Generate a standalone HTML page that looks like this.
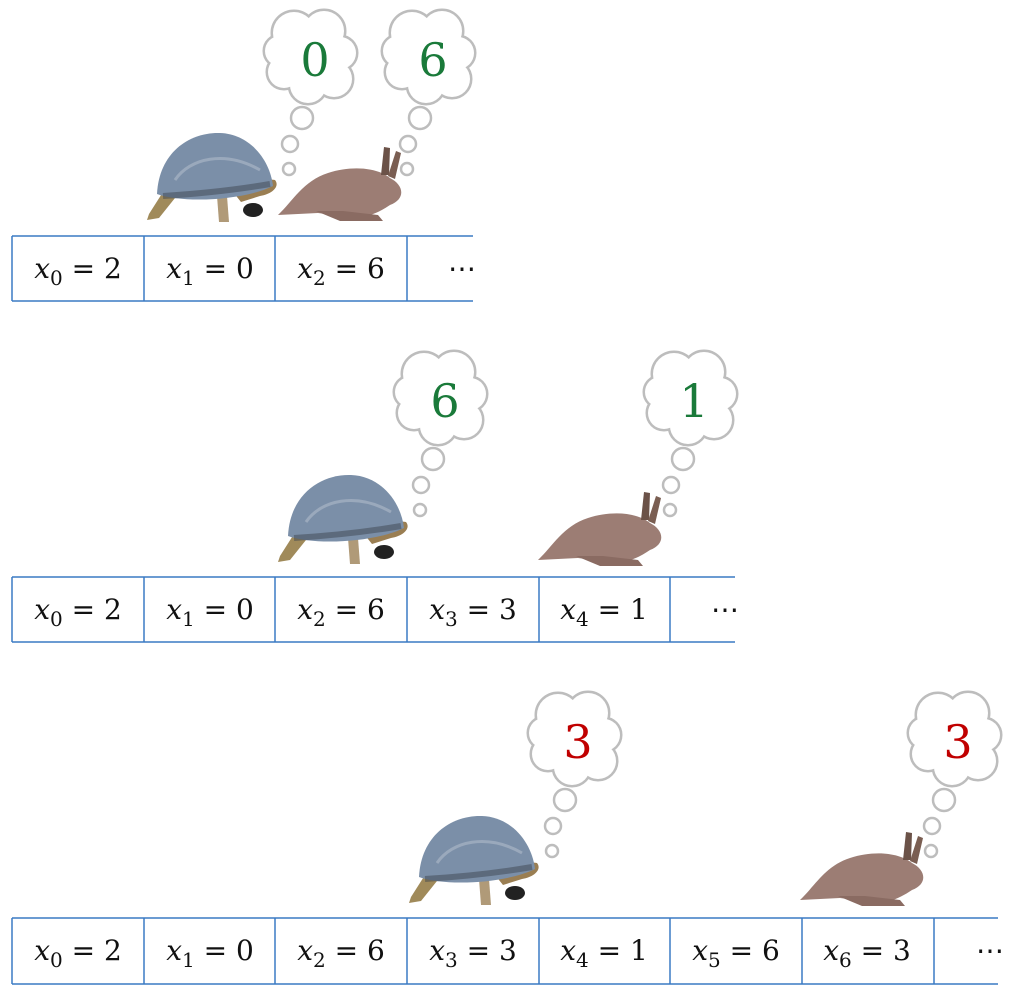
<!DOCTYPE html>
<html><head><meta charset="utf-8"><style>
html,body{margin:0;padding:0;background:#fff;}
svg{display:block}
.c{font-family:"DejaVu Serif","Liberation Serif",serif;font-size:28px;fill:#111;}
.n{font-family:"DejaVu Serif","Liberation Serif",serif;font-size:46px;text-anchor:middle;}
</style></head><body>
<svg width="1024" height="998" viewBox="0 0 1024 998" xmlns="http://www.w3.org/2000/svg">
<defs>
<g id="cloud">
 <g fill="#fff" stroke="#bdbdbd" stroke-width="5">
  <circle cx="-16" cy="-24" r="21"/><circle cx="14" cy="-26" r="20"/><circle cx="30" cy="-4" r="16"/>
  <circle cx="24" cy="22" r="18"/><circle cx="-2" cy="28" r="18"/><circle cx="-26" cy="15" r="16"/><circle cx="-30" cy="-6" r="15"/>
 </g>
 <g fill="#fff">
  <circle cx="-16" cy="-24" r="21"/><circle cx="14" cy="-26" r="20"/><circle cx="30" cy="-4" r="16"/>
  <circle cx="24" cy="22" r="18"/><circle cx="-2" cy="28" r="18"/><circle cx="-26" cy="15" r="16"/><circle cx="-30" cy="-6" r="15"/>
  <circle cx="0" cy="0" r="30"/>
 </g>
</g>
<g id="bub" fill="#fff" stroke="#bdbdbd" stroke-width="2.5">
 <circle cx="0" cy="0" r="11"/><circle cx="-12" cy="26" r="8"/><circle cx="-13" cy="51" r="6"/>
</g>
<g id="tort">
 <path d="M18,62 L4,84 L2,90 L14,88 L30,68 Z" fill="#a08a5a"/>
 <path d="M72,66 L82,66 L84,92 L74,92 Z" fill="#b09a78"/>
 <ellipse cx="108" cy="80" rx="10" ry="7" fill="#222"/>
 <path d="M88,62 C105,56 120,48 130,50 C135,56 128,64 115,66 L96,72 Z" fill="#9a7e52"/>
 <path d="M12,64 C14,22 45,2 75,3 C105,4 125,30 128,56 C100,70 40,74 12,64 Z" fill="#7b8fa8"/>
 <path d="M30,50 C45,28 80,20 115,40" stroke="#a8b4c4" stroke-width="3" fill="none" opacity=".7"/>
 <path d="M18,66 C50,64 90,60 125,54" stroke="#3d4650" stroke-width="6" fill="none" opacity=".5"/>
</g>
<g id="hare">
 <path d="M0,72 C15,58 25,38 50,30 C75,22 100,25 112,35 C126,42 128,56 112,62 C100,70 88,76 70,74 L40,70 Z" fill="#9c7d74"/>
 <path d="M103,32 L106,4 L112,5 L111,32 Z" fill="#6b5248"/>
 <path d="M110,33 L118,8 L123,10 L117,36 Z" fill="#7a5e52"/>
 <path d="M38,68 L62,78 L105,78 L100,72 L65,68 Z" fill="#8a6b62"/>
</g>
</defs>

<g fill="none" stroke="#3a7ac4" stroke-width="1.5">
 <line x1="12" y1="236" x2="473" y2="236"/><line x1="12" y1="301" x2="473" y2="301"/>
 <line x1="12" y1="236" x2="12" y2="301"/><line x1="144" y1="236" x2="144" y2="301"/>
 <line x1="275" y1="236" x2="275" y2="301"/><line x1="407" y1="236" x2="407" y2="301"/>
</g>
<g fill="none" stroke="#3a7ac4" stroke-width="1.5">
 <line x1="12" y1="577" x2="735" y2="577"/><line x1="12" y1="642" x2="735" y2="642"/>
 <line x1="12" y1="577" x2="12" y2="642"/><line x1="144" y1="577" x2="144" y2="642"/>
 <line x1="275" y1="577" x2="275" y2="642"/><line x1="407" y1="577" x2="407" y2="642"/>
 <line x1="539" y1="577" x2="539" y2="642"/><line x1="670" y1="577" x2="670" y2="642"/>
</g>
<g fill="none" stroke="#3a7ac4" stroke-width="1.5">
 <line x1="12" y1="918" x2="998" y2="918"/><line x1="12" y1="984" x2="998" y2="984"/>
 <line x1="12" y1="918" x2="12" y2="984"/><line x1="144" y1="918" x2="144" y2="984"/>
 <line x1="275" y1="918" x2="275" y2="984"/><line x1="407" y1="918" x2="407" y2="984"/>
 <line x1="539" y1="918" x2="539" y2="984"/><line x1="670" y1="918" x2="670" y2="984"/>
 <line x1="802" y1="918" x2="802" y2="984"/><line x1="934" y1="918" x2="934" y2="984"/>
</g>

<g class="c" text-anchor="middle">
 <text x="78" y="278"><tspan font-style="italic">x</tspan><tspan font-size="20" dy="7">0</tspan><tspan dy="-7"> = 2</tspan></text>
 <text x="210" y="278"><tspan font-style="italic">x</tspan><tspan font-size="20" dy="7">1</tspan><tspan dy="-7"> = 0</tspan></text>
 <text x="341" y="278"><tspan font-style="italic">x</tspan><tspan font-size="20" dy="7">2</tspan><tspan dy="-7"> = 6</tspan></text>
 <text x="462" y="278">⋯</text>

 <text x="78" y="619"><tspan font-style="italic">x</tspan><tspan font-size="20" dy="7">0</tspan><tspan dy="-7"> = 2</tspan></text>
 <text x="210" y="619"><tspan font-style="italic">x</tspan><tspan font-size="20" dy="7">1</tspan><tspan dy="-7"> = 0</tspan></text>
 <text x="341" y="619"><tspan font-style="italic">x</tspan><tspan font-size="20" dy="7">2</tspan><tspan dy="-7"> = 6</tspan></text>
 <text x="473" y="619"><tspan font-style="italic">x</tspan><tspan font-size="20" dy="7">3</tspan><tspan dy="-7"> = 3</tspan></text>
 <text x="604" y="619"><tspan font-style="italic">x</tspan><tspan font-size="20" dy="7">4</tspan><tspan dy="-7"> = 1</tspan></text>
 <text x="725" y="619">⋯</text>

 <text x="78" y="960"><tspan font-style="italic">x</tspan><tspan font-size="20" dy="7">0</tspan><tspan dy="-7"> = 2</tspan></text>
 <text x="210" y="960"><tspan font-style="italic">x</tspan><tspan font-size="20" dy="7">1</tspan><tspan dy="-7"> = 0</tspan></text>
 <text x="341" y="960"><tspan font-style="italic">x</tspan><tspan font-size="20" dy="7">2</tspan><tspan dy="-7"> = 6</tspan></text>
 <text x="473" y="960"><tspan font-style="italic">x</tspan><tspan font-size="20" dy="7">3</tspan><tspan dy="-7"> = 3</tspan></text>
 <text x="604" y="960"><tspan font-style="italic">x</tspan><tspan font-size="20" dy="7">4</tspan><tspan dy="-7"> = 1</tspan></text>
 <text x="736" y="960"><tspan font-style="italic">x</tspan><tspan font-size="20" dy="7">5</tspan><tspan dy="-7"> = 6</tspan></text>
 <text x="867" y="960"><tspan font-style="italic">x</tspan><tspan font-size="20" dy="7">6</tspan><tspan dy="-7"> = 3</tspan></text>
 <text x="990" y="960">⋯</text>
</g>

<use href="#cloud" x="310" y="57"/><use href="#bub" x="302" y="118"/>
<use href="#cloud" x="428" y="57"/><use href="#bub" x="420" y="118"/>
<use href="#cloud" x="440" y="398"/><use href="#bub" x="433" y="459"/>
<use href="#cloud" x="690" y="398"/><use href="#bub" x="683" y="459"/>
<use href="#cloud" x="574" y="739"/><use href="#bub" x="565" y="800"/>
<use href="#cloud" x="954" y="739"/><use href="#bub" x="944" y="800"/>

<text class="n" x="315" y="76" fill="#1a7a3a">0</text>
<text class="n" x="433" y="76" fill="#1a7a3a">6</text>
<text class="n" x="445" y="417" fill="#1a7a3a">6</text>
<text class="n" x="694" y="417" fill="#1a7a3a">1</text>
<text class="n" x="578" y="758" fill="#c00000">3</text>
<text class="n" x="958" y="758" fill="#c00000">3</text>

<use href="#tort" x="145" y="130"/>
<use href="#hare" x="278" y="143"/>
<use href="#tort" x="276" y="472"/>
<use href="#hare" x="538" y="488"/>
<use href="#tort" x="407" y="813"/>
<use href="#hare" x="800" y="828"/>
</svg>
</body></html>
